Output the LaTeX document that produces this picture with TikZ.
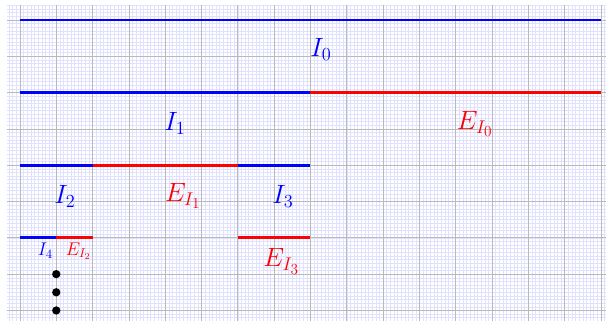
\documentclass[tikz,border=0pt]{standalone}
\usepackage{amsmath,amssymb}
\usepackage{tikz}
\usetikzlibrary{positioning,calc}
\tikzset{
  fine/.style={step=0.1, blue!12, line width=0.4pt},
  coarse/.style={step=1, gray!55, line width=0.6pt},
  inside/.style={line width=2.2pt, blue},
  outside/.style={line width=2.2pt, red},
  lab/.style={blue, font=\huge},
  elab/.style={red, font=\huge},
  dot/.style={circle, fill=black, inner sep=0pt, minimum size=6.5pt},
}

\begin{document}
\begin{tikzpicture}
 \useasboundingbox (-0.55,-8.275) rectangle (16.14,0.55);
 % grid
 \draw[fine] (-0.36,-8.3) grid (16.2,0.42);
 \draw[coarse] (-0.36,-8.3) grid (16.2,0.42);
 % level 0
 \draw[inside] (0,0)--(16,0);
 \node[lab] (i0) at (8.29,-0.8) {$I_0$};
 % level 1
 \draw[inside] (0,-2)--(8,-2);
 \draw[outside] (8,-2)--(16,-2);
 \node[lab] (i1) at (4.27,-2.86) {$I_1$};
 \node[elab] (e0) at (12.53,-2.86) {$E_{I_0}$};
 % level 2
 \draw[inside] (0,-4)--(2,-4);
 \draw[outside] (2,-4)--(6,-4);
 \draw[inside] (6,-4)--(8,-4);
 \node[lab] (i2) at (1.24,-4.85) {$I_2$};
 \node[elab] (e1) at (4.49,-4.85) {$E_{I_1}$};
 \node[lab] (i3) at (7.24,-4.85) {$I_3$};
 % level 3
 \draw[inside] (0,-6)--(1,-6);
 \draw[outside] (1,-6)--(2,-6);
 \draw[outside] (6,-6)--(8,-6);
 \node[blue, font=\Large] (i4) at (0.70,-6.36) {$I_4$};
 \node[red, font=\Large] (e2) at (1.61,-6.37) {$E_{I_2}$};
 \node[elab] (e3) at (7.2,-6.65) {$E_{I_3}$};
 % dots
 \foreach \y in {7,7.5,8}
  \node[dot] (d\y) at (1,-\y) {};
\end{tikzpicture}
\end{document}
